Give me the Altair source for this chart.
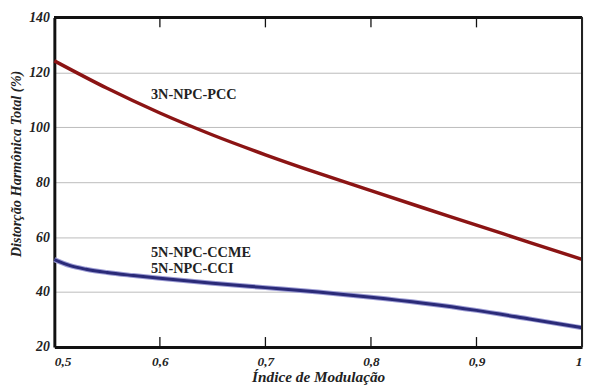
import altair as alt
import pandas as pd

# Modulation index samples and THD (%)
m_red = [0.5, 0.55, 0.6, 0.65, 0.7, 0.75, 0.8, 0.85, 0.9, 0.95, 1.0]
thd_3n_pcc = [124.2, 114.2, 105.2, 97.2, 90.0, 83.3, 76.9, 70.6, 64.4, 58.1, 51.9]

m_blue = [0.5, 0.515, 0.53, 0.55, 0.575, 0.6, 0.65, 0.7, 0.75, 0.8, 0.85, 0.9, 0.95, 1.0]
thd_5n_ccme = [51.8, 49.6, 48.3, 47.1, 46.0, 45.0, 43.2, 41.6, 40.0, 38.1, 35.9, 33.3, 30.2, 27.0]
thd_5n_cci = [51.8, 49.6, 48.3, 47.1, 46.0, 45.0, 43.2, 41.6, 40.0, 38.1, 35.9, 33.3, 30.2, 27.0]

x_ticks = [0.5, 0.6, 0.7, 0.8, 0.9, 1.0]
y_ticks = [20, 40, 60, 80, 100, 120, 140]

labels = ["3N-NPC-PCC", "5N-NPC-CCME", "5N-NPC-CCI"]
label_m = [0.5915, 0.5915, 0.5915]
label_thd = [110.4, 52.9, 47.0]

FONT = "Liberation Serif"

rows = []
for name, ms, vals in [("3N-NPC-PCC", m_red, thd_3n_pcc),
                       ("5N-NPC-CCME", m_blue, thd_5n_ccme),
                       ("5N-NPC-CCI", m_blue, thd_5n_cci)]:
    for mi, v in zip(ms, vals):
        rows.append({"serie": name, "m": mi, "thd": v})
df = pd.DataFrame(rows)

x_scale = alt.Scale(domain=[0.5, 1.0], nice=False, zero=False)
y_scale = alt.Scale(domain=[20, 140], nice=False, zero=False)

x_enc = alt.X(
    "m:Q", scale=x_scale,
    axis=alt.Axis(
        title="Índice de Modulação", values=x_ticks,
        labelExpr="datum.value == 1 ? '1' : replace(format(datum.value, '.1f'), '.', ',')",
        labelFont=FONT, labelFontSize=13.5, labelFontWeight="bold", labelFontStyle="italic",
        labelColor="#222", labelPadding=8, labelBaseline="top",
        ticks=False, tickSize=0, grid=False,
        domainColor="#111", domainWidth=3,
        titleFont=FONT, titleFontSize=15.5, titleFontWeight="bold", titleFontStyle="italic",
        titleColor="#222", titleY=35, titleBaseline="alphabetic",
    ),
)
y_enc = alt.Y(
    "thd:Q", scale=y_scale,
    axis=alt.Axis(
        title="Distorção Harmônica Total (%)", values=y_ticks,
        labelFont=FONT, labelFontSize=14, labelFontWeight="bold", labelFontStyle="italic",
        labelColor="#222", labelPadding=5,
        ticks=False, tickSize=0,
        grid=True, gridColor="#bbbbbb", gridWidth=1,
        domainColor="#111", domainWidth=3,
        titleFont=FONT, titleFontSize=14.5, titleFontWeight="bold", titleFontStyle="italic",
        titleColor="#222", titleX=-38, titleY=148, titleBaseline="middle",
    ),
)

red = alt.Chart(df[df.serie == "3N-NPC-PCC"]).mark_line(
    color="#8b1414", strokeWidth=3.5, interpolate="monotone"
).encode(x=x_enc, y=y_enc)

blue_light = alt.Chart(df[df.serie == "5N-NPC-CCME"]).mark_line(
    color="#9c9cd4", strokeWidth=5, interpolate="monotone"
).encode(x=alt.X("m:Q", scale=x_scale), y=alt.Y("thd:Q", scale=y_scale))

blue_dark = alt.Chart(df[df.serie == "5N-NPC-CCI"]).mark_line(
    color="#2a2a78", strokeWidth=3, interpolate="monotone"
).encode(x=alt.X("m:Q", scale=x_scale), y=alt.Y("thd:Q", scale=y_scale))

tick_df = pd.DataFrame({"m": x_ticks[1:-1]})
bottom_ticks = alt.Chart(tick_df).mark_rule(color="#111", strokeWidth=1.3).encode(
    x=alt.X("m:Q", scale=x_scale), y=alt.value(334), y2=alt.value(324)
)
top_ticks = alt.Chart(tick_df).mark_rule(color="#111", strokeWidth=1.3).encode(
    x=alt.X("m:Q", scale=x_scale), y=alt.value(0), y2=alt.value(10)
)
top_border = alt.Chart(tick_df).mark_rule(color="#111", strokeWidth=3).encode(
    x=alt.value(0), x2=alt.value(535), y=alt.value(0)
)
right_border = alt.Chart(tick_df).mark_rule(color="#222", strokeWidth=2).encode(
    x=alt.value(535), y=alt.value(0), y2=alt.value(334)
)

lab_df = pd.DataFrame({"label": labels, "m": label_m, "thd": label_thd})
texts = alt.Chart(lab_df).mark_text(
    align="left", baseline="alphabetic", font=FONT, fontSize=14.5, fontWeight="bold", color="#222"
).encode(x=alt.X("m:Q", scale=x_scale), y=alt.Y("thd:Q", scale=y_scale), text="label:N")

chart = alt.layer(
    red, blue_light, blue_dark, bottom_ticks, top_ticks, texts, top_border, right_border
).properties(
    width=535, height=334,
    autosize=alt.AutoSizeParams(type="none"),
    padding={"left": 47, "top": 7, "right": 2, "bottom": 37},
).configure_view(stroke=None).configure(background="white")

chart.save("out.html", embed_options={"renderer": "svg", "actions": False})
